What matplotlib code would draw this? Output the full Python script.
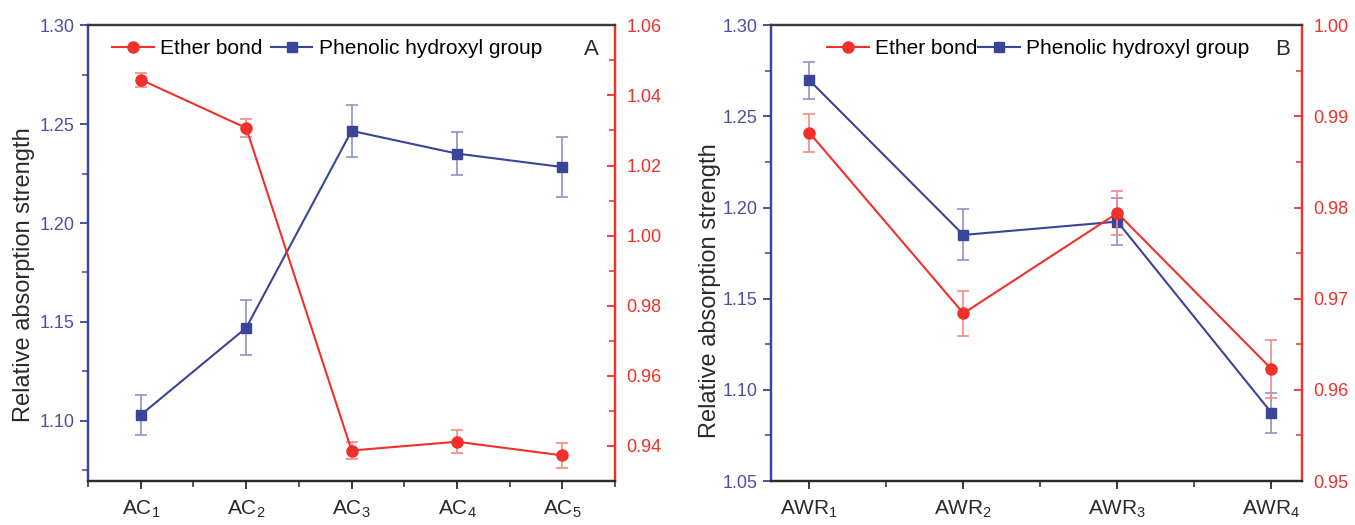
import matplotlib
matplotlib.use("Agg")
import matplotlib.pyplot as plt
from matplotlib.ticker import MultipleLocator, FormatStrFormatter, FixedLocator
from matplotlib.lines import Line2D

plt.rcParams['font.family'] = ['Liberation Sans', 'DejaVu Sans']
plt.rcParams['mathtext.fontset'] = 'custom'
plt.rcParams['mathtext.rm'] = 'Liberation Sans'
plt.rcParams['mathtext.it'] = 'Liberation Sans:italic'

# ---------------- data ----------------
cats_a = [r'AC$_1$', r'AC$_2$', r'AC$_3$', r'AC$_4$', r'AC$_5$']
ether_a = [1.0445, 1.0307, 0.9387, 0.9412, 0.9373]
ether_a_err = [0.0020, 0.0025, 0.0023, 0.0033, 0.0036]
phen_a = [1.1029, 1.1470, 1.2466, 1.2351, 1.2283]
phen_a_err = [0.010, 0.014, 0.013, 0.011, 0.015]

cats_b = [r'AWR$_1$', r'AWR$_2$', r'AWR$_3$', r'AWR$_4$']
ether_b = [0.9882, 0.9684, 0.9794, 0.9623]
ether_b_err = [0.0021, 0.0025, 0.0024, 0.0032]
phen_b = [1.2698, 1.1850, 1.1923, 1.0875]
phen_b_err = [0.010, 0.014, 0.013, 0.011]

BLUE = '#3a4597'
BLUE_E = '#8e93c6'
RED = '#f0302a'
RED_E = '#f58a84'
BLUE_T = '#4b50a0'
DARK = '#2a2a2a'

fig = plt.figure(figsize=(13.55, 5.25), dpi=100)


def panel(rect, cats, ether, ether_err, phen, phen_err, ylim_l, ylim_r,
          lmaj, lmin, rmaj, rmin, xlim, letter, leg_x, letter_x, colsp, lab_xy):
    ax = fig.add_axes(rect)
    ax2 = ax.twinx()
    x = list(range(len(cats)))
    ax.errorbar(x, phen, yerr=phen_err, color=BLUE, ecolor=BLUE_E, elinewidth=1.2,
                capsize=4, capthick=1.2, marker='s', markersize=7, lw=1.5, zorder=3)
    ax2.errorbar(x, ether, yerr=ether_err, color=RED, ecolor=RED_E, elinewidth=1.2,
                 capsize=4, capthick=1.2, marker='o', markersize=8, lw=1.5, zorder=3)
    ax.set_xlim(*xlim)
    ax.set_ylim(*ylim_l)
    ax2.set_ylim(*ylim_r)
    ax.set_xticks(x)
    ax.set_xticklabels(cats, fontsize=15, color=DARK)
    ax.xaxis.set_minor_locator(FixedLocator([i + 0.5 for i in range(-1, len(cats))]))
    ax.yaxis.set_major_locator(MultipleLocator(lmaj))
    ax.yaxis.set_minor_locator(MultipleLocator(lmin))
    ax.yaxis.set_major_formatter(FormatStrFormatter('%.2f'))
    ax2.yaxis.set_major_locator(MultipleLocator(rmaj))
    ax2.yaxis.set_minor_locator(MultipleLocator(rmin))
    ax2.yaxis.set_major_formatter(FormatStrFormatter('%.2f'))

    ax.tick_params(axis='x', which='major', direction='out', length=6, width=1.3, color=DARK, pad=7)
    ax.tick_params(axis='x', which='minor', direction='out', length=4, width=1.1, color=DARK)
    ax.tick_params(axis='y', which='major', direction='out', length=6, width=1.3, color=BLUE,
                   labelcolor=BLUE_T, labelsize=13)
    ax.tick_params(axis='y', which='minor', direction='out', length=4, width=1.1, color=BLUE)
    ax2.tick_params(axis='y', which='major', direction='in', length=6, width=1.3, color=RED,
                    labelcolor=RED, labelsize=13, pad=8)
    ax2.tick_params(axis='y', which='minor', direction='in', length=4, width=1.1, color=RED)

    for a in (ax, ax2):
        a.spines['left'].set_color(BLUE)
        a.spines['right'].set_color(RED)
        a.spines['top'].set_color('#3a3a3a')
        a.spines['bottom'].set_color(DARK)
        for s in a.spines.values():
            s.set_linewidth(1.6)
    ax.set_ylabel('Relative absorption strength', fontsize=17, color=DARK)
    ax.yaxis.set_label_coords(*lab_xy)

    handles = [Line2D([], [], color=RED, marker='o', markersize=8, lw=1.5),
               Line2D([], [], color=BLUE, marker='s', markersize=7, lw=1.5)]
    ax.legend(handles, ['Ether bond', 'Phenolic hydroxyl group'], loc='upper left',
              bbox_to_anchor=(leg_x, 1.0), ncol=2, frameon=False, fontsize=15,
              handlelength=2.0, handletextpad=0.3, columnspacing=colsp, borderaxespad=0.25)
    ax.text(letter_x, 0.948, letter, transform=ax.transAxes, fontsize=16, ha='center', va='center',
            color=DARK)
    return ax, ax2


panel([0.065, 0.0838, 0.389, 0.868], cats_a, ether_a, ether_a_err, phen_a, phen_a_err,
      (1.0695, 1.30), (0.93, 1.06), 0.05, 0.025, 0.02, 0.01, (-0.5, 4.5), 'A', 0.02, 0.955, 0.4,
      (-0.10, 0.452))
panel([0.569, 0.0838, 0.392, 0.868], cats_b, ether_b, ether_b_err, phen_b, phen_b_err,
      (1.05, 1.30), (0.95, 1.00), 0.05, 0.025, 0.01, 0.005, (-0.25, 3.2), 'B', 0.08, 0.963, 0.05,
      (-0.094, 0.417))

fig.savefig('out.png', dpi=100)
